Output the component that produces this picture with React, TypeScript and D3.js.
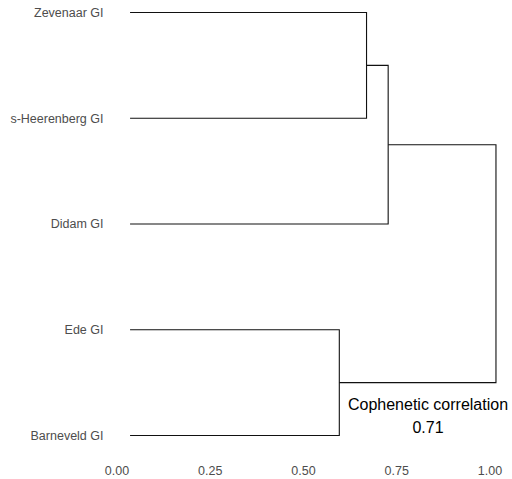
import React from "react";
import * as d3 from "d3";

const leaves = ["Zevenaar GI", "s-Heerenberg GI", "Didam GI", "Ede GI", "Barneveld GI"];
const leafHeight = 0.035;
const merges = [
  { id: "m1", left: "Zevenaar GI", right: "s-Heerenberg GI", height: 0.669 },
  { id: "m2", left: "m1", right: "Didam GI", height: 0.727 },
  { id: "m3", left: "Ede GI", right: "Barneveld GI", height: 0.596 },
  { id: "m4", left: "m2", right: "m3", height: 1.016 },
];
const ticks = [0, 0.25, 0.5, 0.75, 1.0];
const annotation = ["Cophenetic correlation", "0.71"];

export default function App() {
  const W = 512, H = 479;
  const x = d3.scaleLinear().domain([0, 1]).range([117, 490]);
  const y = d3.scalePoint<string>().domain(leaves).range([12.5, 435.5]);

  const pos: Record<string, { x: number; y: number }> = {};
  leaves.forEach((l) => (pos[l] = { x: x(leafHeight), y: y(l)! }));
  const paths: string[] = [];
  merges.forEach((m) => {
    const a = pos[m.left], b = pos[m.right];
    const mx = x(m.height);
    paths.push(`M${a.x},${a.y}H${mx}V${b.y}H${b.x}`);
    pos[m.id] = { x: mx, y: (a.y + b.y) / 2 };
  });

  const font = "Liberation Sans, Arial, Helvetica, sans-serif";
  return (
    <svg width={W} height={H} style={{ position: "absolute", left: 0, top: 0 }} fontFamily={font}>
      <rect width={W} height={H} fill="#fff" />
      {paths.map((d, i) => (
        <path key={i} d={d} fill="none" stroke="#111" strokeWidth={1.1} />
      ))}
      {leaves.map((l) => (
        <text key={l} x={103.5} y={y(l)} dy="0.35em" textAnchor="end" fontSize={12.5} fill="#4d4d4d">
          {l}
        </text>
      ))}
      {ticks.map((t) => (
        <text key={t} x={x(t)} y={471} dy="0.35em" textAnchor="middle" fontSize={12.5} fill="#4d4d4d">
          {d3.format(".2f")(t)}
        </text>
      ))}
      <text x={428} y={404} dy="0.35em" textAnchor="middle" fontSize={16} fill="#000">
        {annotation[0]}
      </text>
      <text x={428} y={427} dy="0.35em" textAnchor="middle" fontSize={16} fill="#000">
        {annotation[1]}
      </text>
    </svg>
  );
}
